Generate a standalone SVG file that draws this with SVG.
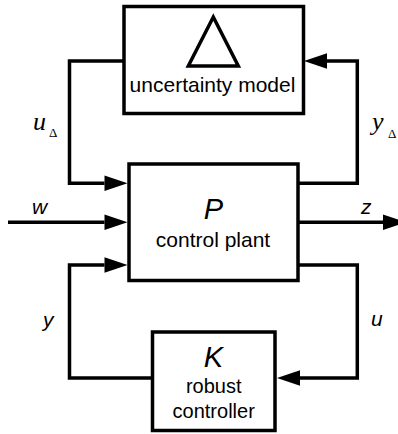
<svg xmlns="http://www.w3.org/2000/svg" width="398" height="434" viewBox="0 0 398 434">
  <style>
    .box { fill: #ffffff; stroke: #000000; stroke-width: 3.5; }
    .wire { fill: none; stroke: #000000; stroke-width: 3.5; stroke-linejoin: miter; }
    .lbl { font-family: "Liberation Sans", Arial, sans-serif; font-size: 21px; fill: #000000; text-anchor: middle; }
    .big { font-family: "Liberation Sans", Arial, sans-serif; font-size: 29px; font-style: italic; fill: #000000; text-anchor: middle; }
    .sig { font-family: "Liberation Sans", Arial, sans-serif; font-size: 21px; font-style: italic; fill: #000000; }
    .sigt { font-family: "Liberation Serif", "Times New Roman", serif; font-size: 26px; font-style: italic; fill: #000000; }
    .sub { font-family: "Liberation Serif", "Times New Roman", serif; font-size: 13px; font-style: normal; }
  </style>
  <defs>
    <marker id="arr" markerUnits="userSpaceOnUse" markerWidth="24" markerHeight="16" viewBox="0 -8 24 16" refX="0" refY="0" orient="auto" overflow="visible">
      <path d="M0,-7.7 L23,0 L0,7.7 Z" fill="#000000"/>
    </marker>
  </defs>
  <rect width="398" height="434" fill="#ffffff"/>

  <g id="connectors">
    <path id="c-udelta" class="wire" d="M124,61 H69.5 V183.3 H104.5" marker-end="url(#arr)"/>
    <path id="c-ydelta" class="wire" d="M298,183.3 H357.3 V61 H327" marker-end="url(#arr)"/>
    <path id="c-w" class="wire" d="M8,222.3 H104.5" marker-end="url(#arr)"/>
    <path id="c-z" class="wire" d="M298,222.3 H383" marker-end="url(#arr)"/>
    <path id="c-y" class="wire" d="M152.5,378 H69.5 V265 H104.5" marker-end="url(#arr)"/>
    <path id="c-u" class="wire" d="M298,265 H357.3 V378 H300" marker-end="url(#arr)"/>
  </g>

  <g id="uncertainty">
    <rect class="box" x="124" y="6.5" width="179.5" height="107"/>
    <polygon points="213.3,17 238.3,66 188.3,66" fill="none" stroke="#000000" stroke-width="3.5" stroke-linejoin="miter"/>
    <text class="lbl" x="212.5" y="91.7">uncertainty model</text>
  </g>

  <g id="plant">
    <rect class="box" x="129" y="164" width="169" height="116.5"/>
    <text class="big" x="213.5" y="219.3">P</text>
    <text class="lbl" x="213" y="247.3">control plant</text>
  </g>

  <g id="controller">
    <rect class="box" x="152.5" y="332" width="122.5" height="98.5"/>
    <text class="big" x="213.5" y="366.7">K</text>
    <text class="lbl" x="213.7" y="393.3" style="font-size:20px">robust</text>
    <text class="lbl" x="213.7" y="417.7" style="font-size:20px">controller</text>
  </g>

  <g id="labels">
    <text class="sigt" x="33" y="130">u<tspan class="sub" x="49" y="136.7">Δ</tspan></text>
    <text class="sigt" x="372" y="130">y<tspan class="sub" x="388" y="138.3">Δ</tspan></text>
    <text class="sig" x="32" y="214">w</text>
    <text class="sig" x="361" y="214">z</text>
    <text class="sig" x="43" y="326.5">y</text>
    <text class="sig" x="371" y="326">u</text>
  </g>
</svg>
